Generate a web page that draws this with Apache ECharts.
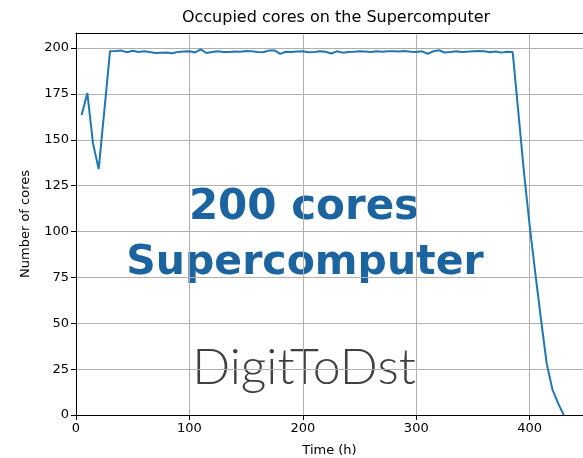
<!DOCTYPE html>
<html><head><meta charset="utf-8">
<script src="https://cdn.jsdelivr.net/npm/echarts@6/dist/echarts.min.js"></script>
<style>html,body{margin:0;padding:0;background:#fff}#c{width:583px;height:458px}</style>
</head><body><div id="c"></div>
<script>
var timeHours = [5,10,15,20,25,30,35,40,45,50,55,60,65,70,75,80,85,90,95,100,
105,110,115,120,125,130,135,140,145,150,155,160,165,170,175,180,185,190,195,200,
205,210,215,220,225,230,235,240,245,250,255,260,265,270,275,280,285,290,295,300,
305,310,315,320,325,330,335,340,345,350,355,360,365,370,375,380,385,390,395,400,
405,410,415,420,425,430];
var occupiedCores = [163.5,175.5,148,134,166,198.3,198.4,198.6,197.7,198.5,197.9,198.3,197.8,197.3,197.5,197.6,197.2,197.9,198.1,198.2,
197.6,199.3,197.3,197.9,198.2,197.9,197.8,198.1,198.0,198.4,198.2,197.9,197.7,198.6,198.7,196.8,198.0,197.8,198.1,198.2,
197.7,197.9,198.3,198.0,197.0,198.2,197.5,197.8,198.0,198.3,198.1,197.9,198.2,198.0,198.2,198.3,198.1,198.4,198.0,197.9,
198.2,196.9,198.2,198.8,197.6,197.9,198.3,197.8,198.0,198.2,198.4,198.3,197.7,198.1,197.5,198.0,197.8,165,132,103,
77,52,28,14,6.5,0];
var xTicks = [0,100,200,300,400];
var yTicks = [0,25,50,75,100,125,150,175,200];

var chart = echarts.init(document.getElementById('c'), null, {renderer:'canvas'});
var tickFont = {fontFamily:'DejaVu Sans', fontSize:13, color:'#000'};
chart.setOption({
  animation:false,
  title:{text:'Occupied cores on the Supercomputer', left:331, top:5, textAlign:'center',
    textStyle:{fontFamily:'DejaVu Sans', fontSize:16, fontWeight:'normal', color:'#000'}},
  grid:{left:76, right:0, top:33, bottom:43, outerBoundsMode:'none', containLabel:false},
  xAxis:[{type:'value', min:0, max:447, interval:100,
    name:'Time (h)', nameLocation:'middle', nameGap:29,
    nameTextStyle:{fontFamily:'DejaVu Sans', fontSize:13, color:'#000'},
    axisLine:{show:true, lineStyle:{color:'#000', width:1}},
    axisTick:{show:true, length:5, lineStyle:{color:'#000'}},
    axisLabel:Object.assign({margin:7, showMaxLabel:false, formatter:function(v){return xTicks.indexOf(v)>=0?String(v):'';}}, tickFont),
    splitLine:{show:true, lineStyle:{color:'#b0b0b0', width:1}}},
    {type:'value', position:'top', min:0, max:447, axisLine:{show:true, lineStyle:{color:'#000'}}, axisTick:{show:false}, axisLabel:{show:false}, splitLine:{show:false}}],
  yAxis:{type:'value', min:0, max:208.2, interval:25,
    name:'Number of cores', nameLocation:'middle', nameGap:44,
    nameTextStyle:{fontFamily:'DejaVu Sans', fontSize:13, color:'#000'},
    axisLine:{show:true, lineStyle:{color:'#000', width:1}},
    axisTick:{show:true, length:5, lineStyle:{color:'#000'}},
    axisLabel:Object.assign({margin:7, showMaxLabel:false, formatter:function(v){return yTicks.indexOf(v)>=0?String(v):'';}}, tickFont),
    splitLine:{show:true, lineStyle:{color:'#b0b0b0', width:1}}},
  series:[{type:'line', xAxisIndex:0, data:timeHours.map(function(t,i){return [t, occupiedCores[i]];}),
    showSymbol:false, lineStyle:{color:'#1f77b4', width:2}, z:3}],
  graphic:[
    {type:'text', style:{x:304, y:208, text:'200 cores', font:'bold 42px "DejaVu Sans"', fill:'#1c64a0', textAlign:'center', textVerticalAlign:'middle'}},
    {type:'text', style:{x:305, y:263, text:'Supercomputer', font:'bold 41px "DejaVu Sans"', fill:'#1c64a0', textAlign:'center', textVerticalAlign:'middle'}},
    {type:'text', style:{x:304, y:368, text:'DigitToDst', font:'300 50px Lato', fill:'#404040', textAlign:'center', textVerticalAlign:'middle'}}
  ]
});
</script></body></html>
